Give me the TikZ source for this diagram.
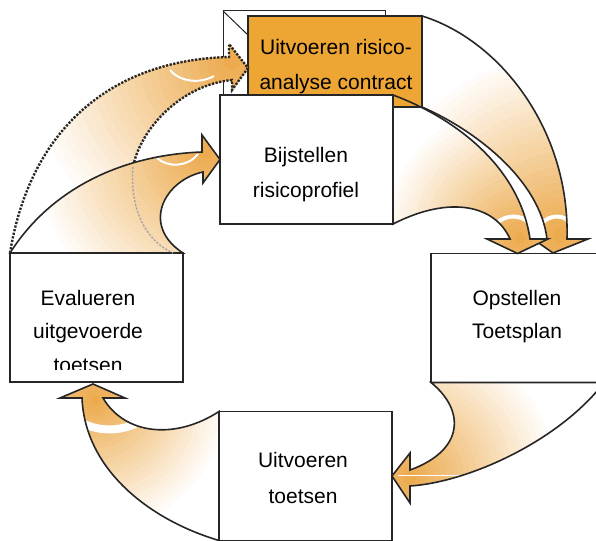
\documentclass[tikz,border=0pt]{standalone}
\usepackage{fontspec}
\setmainfont{Liberation Sans}
\usepackage{xcolor}
\definecolor{oranje}{RGB}{237,166,52}
\definecolor{pijlkleur}{RGB}{236,168,72}
\definecolor{lijn}{RGB}{38,38,38}

\tikzset{
	stap/.style={draw=lijn, line width=1.6pt, fill=white, minimum width=173pt, minimum height=129pt, inner sep=0pt, outer sep=0pt},
	tekst/.style={anchor=base, inner sep=0pt, font=\fontsize{21}{34}\selectfont},
	pijlrand/.style={draw=lijn, line width=1.6pt, line join=miter},
	stippel/.style={draw=lijn, line width=2.4pt, dash pattern=on 2.2pt off 1.5pt},
	glans/.style={white, line width=2pt},
}

% oranje gloed: middelpunt en straal
\newcommand{\gloed}[2]{%
	\foreach \i in {24,...,1}{
		\pgfmathtruncatemacro{\sterkte}{100-4*\i}
		\fill[pijlkleur!\sterkte!white] #1 circle ({#2*\i/24});
	}}

\begin{document}
\begin{tikzpicture}[x=1pt,y=-1pt]
		\useasboundingbox (0,0) rectangle (596,540);
		
		%blokken
		\node[stap, line width=1pt, minimum width=162pt, minimum height=84pt] (achter) at (304,53) {};
		\draw[lijn, line width=1pt] (achter.north west) -- (248,35);
		\node[stap, fill=oranje, minimum width=174pt, minimum height=91pt] (analyse) at (335,61.5) {};
		\node[stap] (bijstel) at (306.5,159.5) {};
		\node[stap] (opstel) at (517.5,318) {};
		\node[stap] (uitvoer) at (305.5,476) {};
		\node[stap] (evalueer) at (96.5,317.5) {};
		
		%pijl stippel
		\path[path picture={
				\gloed{(232,62)}{200}
				\draw[glans] (170,70) .. controls (180,82) and (200,84) .. (214,76);
			}] (evalueer.north west) .. controls (30,130) and (110,60) .. (229,57) -- (229,44) -- (248,68) -- (232,90) -- (232,80)
			.. controls (180,85) and (140,130) .. (133,167) .. controls (130,200) and (140,238) .. (173,253) -- cycle;
		\draw[stippel] (evalueer.north west) .. controls (30,130) and (110,60) .. (229,57) -- (229,44) -- (248,68) -- (232,90) -- (232,80)
			.. controls (180,85) and (140,130) .. (133,167);
		
		%pijl evalueren - bijstellen
		\draw[pijlrand, path picture={
				\gloed{(205,152)}{170}
				\draw[glans] (157,158) .. controls (168,168) and (188,167) .. (198,154);
			}] (evalueer.north west) .. controls (50,190) and (120,155) .. (202,152) -- (202,135) -- (bijstel.west) -- (203,183) -- (203,172)
			.. controls (165,180) and (140,225) .. (evalueer.north east) -- cycle;
		\draw[stippel, draw=gray!70, line width=1.4pt] (133,167) .. controls (130,200) and (140,238) .. (173,253);
		
		%pijl analyse - opstellen
		\draw[pijlrand, path picture={
				\gloed{(560,235)}{180}
				\draw[glans, line width=4pt] (541,224) .. controls (550,214) and (565,214) .. (571,224);
			}] (analyse.north east) .. controls (500,40) and (570,130) .. (567,239) -- (588,239) -- (553,253) -- (533,239) -- (547,239)
			.. controls (540,180) and (475,130) .. (analyse.south east) -- cycle;
		
		%pijl bijstellen - opstellen
		\draw[pijlrand, path picture={
				\gloed{(520,238)}{135}
				\draw[glans, line width=4pt] (496,224) .. controls (505,214) and (522,214) .. (530,224);
			}] (bijstel.north east) .. controls (460,120) and (520,170) .. (530,239) -- (548,239) -- (opstel.north) -- (487,239) -- (510,239)
			.. controls (495,205) and (450,195) .. (bijstel.south east) -- cycle;
		
		%pijl opstellen - uitvoeren
		\draw[pijlrand, path picture={
				\gloed{(410,478)}{145}
				\draw[glans, line width=0.8pt] (398,475) -- (470,475);
			}] (opstel.south west) .. controls (465,410) and (465,450) .. (410,470) -- (410,453) -- (uitvoer.east) -- (410,503) -- (410,486)
			.. controls (470,482) and (560,440) .. (opstel.south east) -- cycle;
		
		%pijl uitvoeren - evalueren
		\draw[pijlrand, path picture={
				\gloed{(95,400)}{130}
				\draw[glans, line width=8pt] (80,422) .. controls (100,433) and (125,431) .. (140,421);
			}] (uitvoer.north west) .. controls (175,440) and (125,435) .. (103,398) -- (125,398) -- (93,384) -- (60,398) -- (82,398)
			.. controls (85,470) and (150,520) .. (uitvoer.south west) -- cycle;
		
		%namen
		\node[tekst] (analyse1) at (336,55) {Uitvoeren risico-};
		\node[tekst] (analyse2) at (336,90) {analyse contract};
		\node[tekst] (bijstel1) at (306,162) {Bijstellen};
		\node[tekst] (bijstel2) at (306,197) {risicoprofiel};
		\node[tekst] (opstel1) at (517,305) {Opstellen};
		\node[tekst] (opstel2) at (517,338) {Toetsplan};
		\node[tekst] (uitvoer1) at (303,467) {Uitvoeren};
		\node[tekst] (uitvoer2) at (303,503) {toetsen};
		\begin{scope}
			\clip (evalueer.north west) rectangle (183,369);
			\node[tekst] (evalueer1) at (88,305) {Evalueren};
			\node[tekst] (evalueer2) at (88,338) {uitgevoerde};
			\node[tekst] (evalueer3) at (88,372) {toetsen};
		\end{scope}
		
	\end{tikzpicture}
\end{document}
